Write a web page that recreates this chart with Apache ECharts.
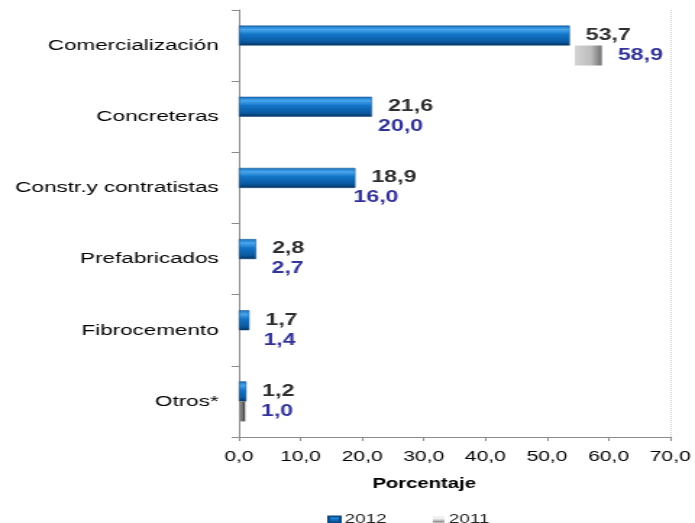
<!DOCTYPE html>
<html>
<head>
<meta charset="utf-8">
<script src="https://cdn.jsdelivr.net/npm/echarts@6/dist/echarts.min.js"></script>
<style>
html,body{margin:0;padding:0;background:#fff;overflow:hidden;}
#c{width:480px;height:523px;transform:scaleX(1.4479);transform-origin:0 0;}
</style>
</head>
<body>
<div id="c"></div>
<script>
const categories = ['Comercialización','Concreteras','Constr.y contratistas','Prefabricados','Fibrocemento','Otros*'];
const values2012 = [53.7, 21.6, 18.9, 2.8, 1.7, 1.2];
const values2011 = [58.9, 20.0, 16.0, 2.7, 1.4, 1.0];
const seriesNames = ['2012', '2011'];
const xMin = 0, xMax = 70, xStep = 10;

const FONT = "'Liberation Sans', Arial, sans-serif";
const fmt = v => Number(v).toFixed(1).replace('.', ',');

const blueGrad = new echarts.graphic.LinearGradient(0, 0, 0, 1, [
  {offset: 0, color: '#1670bd'},
  {offset: 0.2, color: '#48a6ee'},
  {offset: 0.45, color: '#1273c6'},
  {offset: 0.8, color: '#0a5aa2'},
  {offset: 1, color: '#07325c'}
]);
const grayGrad = new echarts.graphic.LinearGradient(0, 0, 0, 1, [
  {offset: 0, color: '#e6e6e6'},
  {offset: 0.3, color: '#f7f7f7'},
  {offset: 0.7, color: '#b8b8b8'},
  {offset: 1, color: '#6e6e6e'}
]);
// 2011 bars: only partly visible in the reference picture
const style2011 = [
  {color: new echarts.graphic.LinearGradient(0, 0, 1, 0, [
    {offset: 0, color: 'rgba(255,255,255,0)'},
    {offset: 0.924, color: 'rgba(255,255,255,0)'},
    {offset: 0.925, color: '#d4d4d4'},
    {offset: 0.97, color: '#bdbdbd'},
    {offset: 1, color: '#6f6f6f'}
  ])},
  {color: 'rgba(255,255,255,0)'},
  {color: 'rgba(255,255,255,0)'},
  {color: 'rgba(255,255,255,0)'},
  {color: 'rgba(255,255,255,0)'},
  {color: new echarts.graphic.LinearGradient(0, 0, 1, 0, [
    {offset: 0, color: '#9a9a9a'},
    {offset: 0.6, color: '#6a6a6a'},
    {offset: 1, color: '#333'}
  ])}
];

const chart = echarts.init(document.getElementById('c'), null, {renderer: 'canvas'});
chart.setOption({
  animation: false,
  backgroundColor: '#fff',
  textStyle: {fontFamily: FONT},
  grid: {left: 165, right: 17, top: 10, bottom: 86, containLabel: false},
  legend: {
    data: [
      {name: seriesNames[0], icon: 'rect', itemStyle: {color: blueGrad}},
      {name: seriesNames[1], icon: 'rect', itemStyle: {color: grayGrad}}
    ],
    left: 221, top: 508, itemWidth: 8, itemHeight: 6, itemGap: 32,
    textStyle: {fontFamily: FONT, fontSize: 13, color: '#222', padding: [0, 0, 0, -2]}
  },
  xAxis: {
    type: 'value', min: xMin, max: xMax, interval: xStep,
    name: 'Porcentaje', nameLocation: 'middle', nameGap: 40,
    nameTextStyle: {fontFamily: FONT, fontSize: 14, fontWeight: 'bold', color: '#000', padding: [0, 42, 0, 0]},
    axisLine: {show: true, lineStyle: {color: '#8c8c8c', width: 1}},
    axisTick: {show: true, length: 4, lineStyle: {color: '#8c8c8c'}},
    axisLabel: {margin: 12, fontFamily: FONT, fontSize: 14.5, color: '#000', formatter: v => fmt(v)},
    splitLine: {show: true, lineStyle: {type: 'dotted', width: 1,
      color: ['rgba(0,0,0,0)','rgba(0,0,0,0)','rgba(0,0,0,0)','rgba(0,0,0,0)','rgba(0,0,0,0)','rgba(0,0,0,0)','rgba(0,0,0,0)','#cfcfcf']}}
  },
  yAxis: {
    type: 'category', data: categories, inverse: true,
    axisLine: {show: true, lineStyle: {color: '#8c8c8c', width: 1}},
    axisTick: {show: true, length: 5, lineStyle: {color: '#8c8c8c'}},
    axisLabel: {margin: 14, fontFamily: FONT, fontSize: 15.5, color: '#000'},
    splitLine: {show: false}
  },
  series: [
    {
      name: seriesNames[0], type: 'bar', data: values2012,
      barWidth: 20, barGap: '0%',
      itemStyle: {color: blueGrad, borderColor: '#0a4a86', borderWidth: 0.5},
      label: {show: true, position: 'right', distance: 11, formatter: p => fmt(p.value),
        fontFamily: FONT, fontSize: 16, fontWeight: 'bold', color: '#2e2e2e'}
    },
    {
      name: seriesNames[1], type: 'bar',
      data: values2011.map((v, i) => ({value: v, itemStyle: style2011[i]})),
      barWidth: 20, barGap: '0%',
      label: {show: true, position: 'right', distance: 11, formatter: p => fmt(p.value),
        fontFamily: FONT, fontSize: 16, fontWeight: 'bold', color: '#333399'}
    }
  ]
});
</script>
</body>
</html>
